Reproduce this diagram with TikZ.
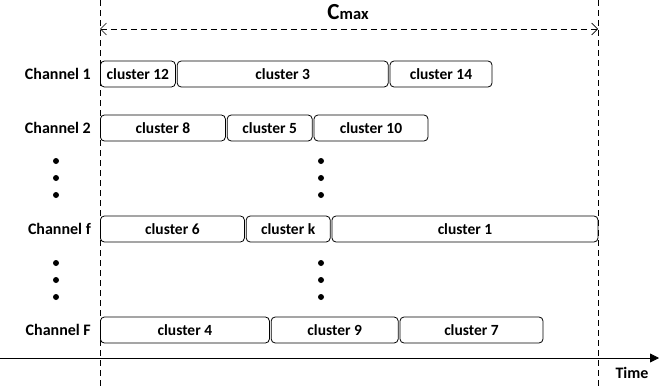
\documentclass[tikz,border=0pt]{standalone}
\usepackage{fontspec}
\setmainfont{Carlito}
\usetikzlibrary{arrows.meta,positioning}

\begin{document}
\begin{tikzpicture}[x=1pt,y=-1pt,font=\bfseries\fontsize{15.5}{17}\selectfont,
      node distance=0pt and 1pt,
      clbox/.style={draw,rounded corners=4pt,minimum height=26pt,inner sep=0pt,anchor=west,line width=0.8pt},
      chlabel/.style={anchor=east,inner sep=0pt,font=\bfseries\fontsize{16}{18}\selectfont},
      bound/.style={dashed,dash pattern=on 6pt off 4pt,line width=0.7pt},
      dotmark/.style={fill,circle,inner sep=0pt,minimum size=6pt}]
    \useasboundingbox (0,0) rectangle (659,388);
    % time bounds
    \coordinate (lt) at (100,0);   \coordinate (lb) at (100,388);
    \coordinate (rt) at (598,0);   \coordinate (rb) at (598,388);
    \draw[bound] (lt) -- (lb);
    \draw[bound] (rt) -- (rb);
    \coordinate (cl) at (100,29);  \coordinate (cr) at (598,29);
    \draw[bound,{Straight Barb[length=6pt,width=12pt]}-{Straight Barb[length=6pt,width=12pt]}] (cl) -- (cr);
    \node (cmax) at (348,12) {{\fontsize{23}{25}\selectfont C}{\fontsize{16.5}{18}\selectfont max}};
    % channels
    \node[chlabel] (ch1) at (91,74) {Channel 1};
    \node[chlabel] (ch2) at (91,128) {Channel 2};
    \node[chlabel] (chf) at (91,229) {Channel f};
    \node[chlabel] (chF) at (91,330) {Channel F};
    % clusters
    \node[clbox,minimum width=75pt] (c12) at (100,74) {cluster 12};
    \node[clbox,minimum width=211pt,right=of c12] (c3) {cluster 3};
    \node[clbox,minimum width=102pt,right=of c3] (c14) {cluster 14};
    \node[clbox,minimum width=125pt] (c8) at (100,128) {cluster 8};
    \node[clbox,minimum width=85pt,right=of c8] (c5) {cluster 5};
    \node[clbox,minimum width=114pt,right=of c5] (c10) {cluster 10};
    \node[clbox,minimum width=144pt] (c6) at (100,229) {cluster 6};
    \node[clbox,minimum width=84pt,right=of c6] (ck) {cluster k};
    \node[clbox,minimum width=266pt,right=of ck] (c1) {cluster 1};
    \node[clbox,minimum width=169pt] (c4) at (100,330) {cluster 4};
    \node[clbox,minimum width=127pt,right=of c4] (c9) {cluster 9};
    \node[clbox,minimum width=143pt,right=of c9] (c7) {cluster 7};
    % dots
    \foreach \x in {56,321}
      \foreach \y in {161,178,195,263,280,297}
        \node[dotmark] at (\x,\y) {};
    % time axis
    \coordinate (t0) at (0,358);  \coordinate (t1) at (659,358);
    \draw[line width=0.8pt,-{Triangle[length=9pt,width=9pt]}] (t0) -- (t1);
    \node[anchor=north,chlabel,anchor=north] (time) at (632,367) {Time};
  \end{tikzpicture}
\end{document}
